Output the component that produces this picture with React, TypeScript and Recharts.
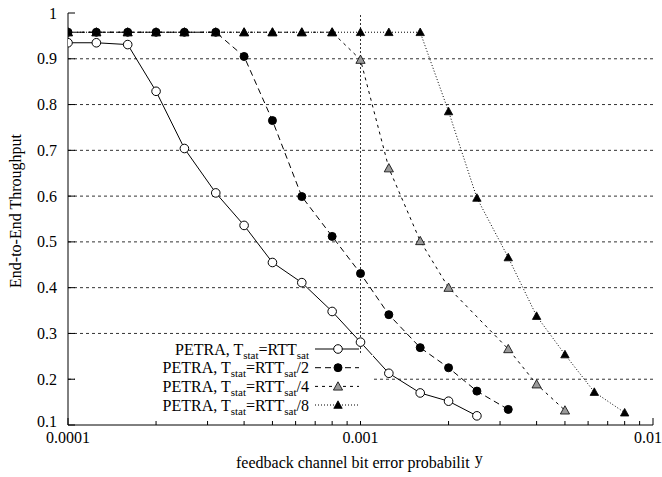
import React from 'react';
import { LineChart, Line, XAxis, YAxis, ReferenceLine, Legend } from 'recharts';

// ---- data ----
const xValues = [
  0.0001, 0.000125, 0.00016, 0.0002, 0.00025, 0.00032, 0.0004, 0.0005, 0.00063, 0.0008,
  0.001, 0.00125, 0.0016, 0.002, 0.0025, 0.0032, 0.004, 0.005, 0.0063, 0.008,
];
const seriesRTT: (number | null)[] = [
  0.935, 0.935, 0.931, 0.829, 0.704, 0.607, 0.536, 0.455, 0.411, 0.348,
  0.281, 0.213, 0.17, 0.152, 0.12, null, null, null, null, null,
];
const seriesRTT2: (number | null)[] = [
  0.958, 0.958, 0.958, 0.958, 0.958, 0.958, 0.905, 0.765, 0.599, 0.512,
  0.431, 0.341, 0.269, 0.225, 0.174, 0.134, null, null, null, null,
];
const seriesRTT4: (number | null)[] = [
  0.958, 0.958, 0.958, 0.958, 0.958, 0.958, 0.958, 0.958, 0.958, 0.958,
  0.898, 0.661, 0.502, 0.4, null, 0.266, 0.189, 0.132, null, null,
];
const seriesRTT8: (number | null)[] = [
  0.958, 0.958, 0.958, 0.958, 0.958, 0.958, 0.958, 0.958, 0.958, 0.958,
  0.958, 0.958, 0.958, 0.785, 0.596, 0.466, 0.338, 0.254, 0.172, 0.127,
];
const legendSuffixes = ['', '/2', '/4', '/8'];
const xMajorTicks = [0.0001, 0.001, 0.01];
const xMinorTicks = [
  0.0002, 0.0003, 0.0004, 0.0005, 0.0006, 0.0007, 0.0008, 0.0009,
  0.002, 0.003, 0.004, 0.005, 0.006, 0.007, 0.008, 0.009,
];
const yTicks = [0.1, 0.2, 0.3, 0.4, 0.5, 0.6, 0.7, 0.8, 0.9, 1];
const yGridValues = [0.2, 0.3, 0.4, 0.5, 0.6, 0.7, 0.8, 0.9];
const xGridValues = [0.001];
const xTitle = 'feedback channel bit error probabilit';
const xTitleTail = 'y';
const yTitle = 'End-to-End Throughput';

const FONT = '"Liberation Serif", "Times New Roman", serif';
const allXTicks = [...xMajorTicks, ...xMinorTicks].sort((a, b) => a - b);

const toPoints = (vals: (number | null)[]) =>
  xValues.map((x, i) => ({ x, y: vals[i] })).filter((p) => p.y != null);

// ---- markers ----
const circleMark = (cx: number, cy: number, filled: boolean, key?: any) => (
  <circle key={key} cx={cx} cy={cy} r={filled ? 4 : 4.3} fill={filled ? '#000' : '#fff'} stroke="#000" strokeWidth={1} />
);
const triMark = (cx: number, cy: number, fill: string, s: number, key?: any) => (
  <polygon
    key={key}
    points={`${cx},${cy - s} ${cx - s},${cy + s * 0.8} ${cx + s},${cy + s * 0.8}`}
    fill={fill}
    stroke="#000"
    strokeWidth={0.8}
  />
);

const dotOpen = (p: any) => circleMark(p.cx, p.cy, false, `o${p.index}`);
const dotFilled = (p: any) => circleMark(p.cx, p.cy, true, `f${p.index}`);
const dotGrayTri = (p: any) => triMark(p.cx, p.cy, '#9a9a9a', 4.6, `g${p.index}`);
const dotBlackTri = (p: any) => triMark(p.cx, p.cy, '#000', 4.2, `b${p.index}`);

const seriesDefs = [
  { data: seriesRTT, dash: undefined as string | undefined, dot: dotOpen, mark: (x: number, y: number) => circleMark(x, y, false) },
  { data: seriesRTT2, dash: '6 4', dot: dotFilled, mark: (x: number, y: number) => circleMark(x, y, true) },
  { data: seriesRTT4, dash: '3 4', dot: dotGrayTri, mark: (x: number, y: number) => triMark(x, y, '#9a9a9a', 4.6) },
  { data: seriesRTT8, dash: '1 2', dot: dotBlackTri, mark: (x: number, y: number) => triMark(x, y, '#000', 4.2) },
];

// ---- ticks ----
const BottomTick = (props: any) => {
  const { x, y, payload } = props;
  const major = xMajorTicks.includes(payload.value);
  const isLast = payload.value === xMajorTicks[xMajorTicks.length - 1];
  return (
    <g>
      <line x1={x} y1={y} x2={x} y2={y - (major ? 7 : 4)} stroke="#000" />
      {major && (
        <text x={isLast ? x - 5 : x} y={y + 18} textAnchor="middle" fontFamily={FONT} fontSize={16} fill="#000">
          {String(payload.value)}
        </text>
      )}
    </g>
  );
};
const TopTick = (props: any) => {
  const { x, y, payload } = props;
  const major = xMajorTicks.includes(payload.value);
  return <line x1={x} y1={y} x2={x} y2={y + (major ? 7 : 4)} stroke="#000" />;
};
const LeftTick = (props: any) => {
  const { x, y, payload } = props;
  const v = Math.round(payload.value * 10) / 10;
  const isFirst = v === yTicks[0];
  return (
    <g>
      <line x1={x} y1={y} x2={x + 7} y2={y} stroke="#000" />
      <text x={x - 11} y={y + (isFirst ? 1.5 : 5.5)} textAnchor="end" fontFamily={FONT} fontSize={16} fill="#000">
        {String(v)}
      </text>
    </g>
  );
};
const RightTick = (props: any) => {
  const { x, y } = props;
  return <line x1={x} y1={y} x2={x - 7} y2={y} stroke="#000" />;
};

// ---- legend ----
const LegendBox = () => {
  const rowY = [11, 29.7, 48.4, 67];
  return (
    <svg width={300} height={86} style={{ display: 'block', overflow: 'visible' }}>
      <rect x={0} y={17} width={298} height={66} fill="#fff" />
      {seriesDefs.map((s, i) => {
        const ry = rowY[i];
        return (
          <g key={i}>
            <text x={234} y={ry + 5.5} textAnchor="end" fontFamily={FONT} fontSize={16} fill="#000">
              PETRA, T
              <tspan fontSize={11} dy={4}>stat</tspan>
              <tspan dy={-4}>=RTT</tspan>
              <tspan fontSize={11} dy={4}>sat</tspan>
              {legendSuffixes[i] ? <tspan dy={-4}>{legendSuffixes[i]}</tspan> : null}
            </text>
            <line x1={240} y1={ry} x2={284} y2={ry} stroke="#000" strokeWidth={1} strokeDasharray={s.dash} />
            {s.mark(263, ry)}
          </g>
        );
      })}
    </svg>
  );
};

export default function App() {
  return (
    <div style={{ position: 'absolute', left: 0, top: 0 }}>
      <LineChart width={662} height={477} margin={{ top: 13, right: 9, bottom: 0, left: 0 }}>
        <XAxis
          xAxisId="b"
          dataKey="x"
          type="number"
          scale="log"
          domain={[0.0001, 0.01]}
          allowDataOverflow
          ticks={allXTicks}
          interval={0}
          height={52}
          tickSize={0}
          tickMargin={0}
          tickLine={false}
          axisLine={{ stroke: '#000' }}
          tick={BottomTick}
          label={{
            content: (p: any) => {
              const vb = p.viewBox || { x: 68, y: 425, width: 585 };
              return (
                <text x={vb.x + 168} y={vb.y + 43} fontFamily={FONT} fontSize={16} fill="#000">
                  {xTitle}
                  <tspan dx={5} dy={-4}>{xTitleTail}</tspan>
                </text>
              );
            },
          }}
        />
        <XAxis
          xAxisId="t"
          orientation="top"
          dataKey="x"
          type="number"
          scale="log"
          domain={[0.0001, 0.01]}
          allowDataOverflow
          ticks={allXTicks}
          interval={0}
          height={0}
          tickSize={0}
          tickMargin={0}
          tickLine={false}
          axisLine={{ stroke: '#000' }}
          tick={TopTick}
        />
        <YAxis
          yAxisId="l"
          type="number"
          domain={[0.1, 1]}
          allowDataOverflow
          ticks={yTicks}
          interval={0}
          width={68}
          tickSize={0}
          tickMargin={0}
          tickLine={false}
          axisLine={{ stroke: '#000' }}
          tick={LeftTick}
          label={{
            content: (p: any) => {
              const vb = p.viewBox || { x: 0, y: 13, height: 412 };
              const cy = vb.y + vb.height / 2 - 8;
              return (
                <text
                  x={21}
                  y={cy}
                  transform={`rotate(-90 21 ${cy})`}
                  textAnchor="middle"
                  fontFamily={FONT}
                  fontSize={16}
                  fill="#000"
                >
                  {yTitle}
                </text>
              );
            },
          }}
        />
        <YAxis
          yAxisId="r"
          orientation="right"
          type="number"
          domain={[0.1, 1]}
          allowDataOverflow
          ticks={yTicks}
          interval={0}
          width={0}
          tickSize={0}
          tickMargin={0}
          tickLine={false}
          axisLine={{ stroke: '#000' }}
          tick={RightTick}
        />
        {yGridValues.map((v) => (
          <ReferenceLine key={`gy${v}`} xAxisId="b" yAxisId="l" y={v} stroke="#333" strokeDasharray="3 3" strokeWidth={1} />
        ))}
        {xGridValues.map((v) => (
          <ReferenceLine key={`gx${v}`} xAxisId="b" yAxisId="l" x={v} stroke="#333" strokeDasharray="2 2" strokeWidth={1} />
        ))}
        {seriesDefs.map((s, i) => (
          <Line
            key={i}
            xAxisId="b"
            yAxisId="l"
            data={toPoints(s.data)}
            dataKey="y"
            type="linear"
            stroke="#000"
            strokeWidth={1}
            strokeDasharray={s.dash}
            dot={s.dot}
            activeDot={false}
            isAnimationActive={false}
          />
        ))}
        <Legend
          layout="vertical"
          align="center"
          verticalAlign="middle"
          wrapperStyle={{ position: 'absolute', left: 75, top: 338, width: 300, height: 86 }}
          content={() => <LegendBox />}
        />
      </LineChart>
    </div>
  );
}
